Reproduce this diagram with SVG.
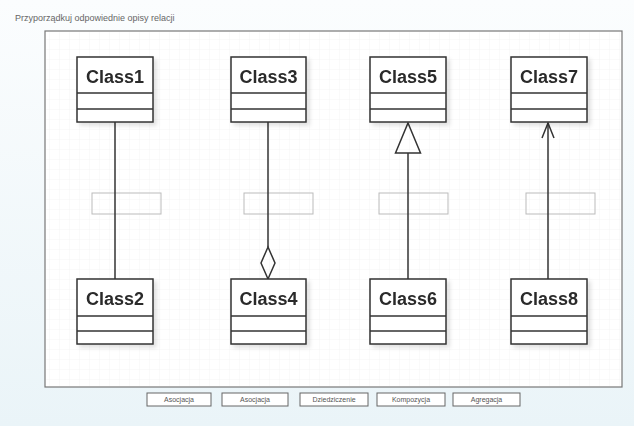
<svg xmlns="http://www.w3.org/2000/svg" width="634" height="426" viewBox="0 0 634 426">
<defs>
<linearGradient id="bg" x1="0" y1="0" x2="0" y2="1">
<stop offset="0" stop-color="#fbfdfe"/>
<stop offset="1" stop-color="#eaf4f8"/>
</linearGradient>
<pattern id="grid" width="10" height="10" patternUnits="userSpaceOnUse">
<path d="M10 0V10M0 10H10" fill="none" stroke="#f4f4f4" stroke-width="1"/>
</pattern>
<filter id="sh" x="-10%" y="-10%" width="130%" height="130%">
<feDropShadow dx="3" dy="3" stdDeviation="2" flood-color="#000" flood-opacity="0.12"/>
</filter>
</defs>
<style>
.cls rect{fill:#fff;stroke:#333;stroke-width:1.5}
.cls line{stroke:#333;stroke-width:1.5}
.cls text{font-family:"Liberation Sans",Arial,sans-serif;font-weight:bold;font-size:18px;fill:#2a2a2a;text-anchor:middle}
.edge{stroke:#333;stroke-width:1.5;fill:none}
.lbl{fill:none;stroke:#bbb;stroke-width:1}
.btn rect{fill:#fff;stroke:#666;stroke-width:1}
.btn text{font-family:"Liberation Sans",Arial,sans-serif;font-size:7px;fill:#555;text-anchor:middle}
</style>
<rect width="634" height="426" fill="url(#bg)"/>
<text x="15" y="21" font-family="Liberation Sans, Arial, sans-serif" font-size="9" fill="#666">Przyporządkuj odpowiednie opisy relacji</text>
<rect x="45" y="31" width="577" height="356" fill="#fff" stroke="#777" stroke-width="1.2"/>
<rect x="46" y="32" width="575" height="354" fill="url(#grid)"/>
<g id="labels">
<rect class="lbl" x="92" y="193" width="69" height="21"/>
<rect class="lbl" x="244" y="193" width="69" height="21"/>
<rect class="lbl" x="379" y="193" width="69" height="21"/>
<rect class="lbl" x="526" y="193" width="69" height="21"/>
</g>
<g id="connectors">
<line class="edge" x1="115" y1="122" x2="115" y2="279"/>
<line class="edge" x1="268" y1="122" x2="268" y2="247"/>
<polygon class="edge" points="268,247 275,263 268,279 261,263" fill="#fff"/>
<line class="edge" x1="408" y1="153" x2="408" y2="279"/>
<polygon class="edge" points="408,123 420.5,153 395.5,153" fill="#fff"/>
<line class="edge" x1="548" y1="123" x2="548" y2="279"/>
<polyline class="edge" points="542,138 548,123 554,138"/>
</g>
<g id="Class1" class="cls" filter="url(#sh)"><rect x="77" y="57" width="76" height="65"/><line x1="77" y1="93" x2="153" y2="93"/><line x1="77" y1="109" x2="153" y2="109"/><text x="115" y="82.5">Class1</text></g>
<g id="Class3" class="cls" filter="url(#sh)"><rect x="231" y="57" width="75" height="65"/><line x1="231" y1="93" x2="306" y2="93"/><line x1="231" y1="109" x2="306" y2="109"/><text x="268.5" y="82.5">Class3</text></g>
<g id="Class5" class="cls" filter="url(#sh)"><rect x="370" y="57" width="76" height="65"/><line x1="370" y1="93" x2="446" y2="93"/><line x1="370" y1="109" x2="446" y2="109"/><text x="408" y="82.5">Class5</text></g>
<g id="Class7" class="cls" filter="url(#sh)"><rect x="511" y="57" width="76" height="65"/><line x1="511" y1="93" x2="587" y2="93"/><line x1="511" y1="109" x2="587" y2="109"/><text x="549" y="82.5">Class7</text></g>
<g id="Class2" class="cls" filter="url(#sh)"><rect x="77" y="279" width="76" height="65"/><line x1="77" y1="316" x2="153" y2="316"/><line x1="77" y1="331" x2="153" y2="331"/><text x="115" y="304.5">Class2</text></g>
<g id="Class4" class="cls" filter="url(#sh)"><rect x="231" y="279" width="75" height="65"/><line x1="231" y1="316" x2="306" y2="316"/><line x1="231" y1="331" x2="306" y2="331"/><text x="268.5" y="304.5">Class4</text></g>
<g id="Class6" class="cls" filter="url(#sh)"><rect x="370" y="279" width="76" height="65"/><line x1="370" y1="316" x2="446" y2="316"/><line x1="370" y1="331" x2="446" y2="331"/><text x="408" y="304.5">Class6</text></g>
<g id="Class8" class="cls" filter="url(#sh)"><rect x="511" y="279" width="76" height="65"/><line x1="511" y1="316" x2="587" y2="316"/><line x1="511" y1="331" x2="587" y2="331"/><text x="549" y="304.5">Class8</text></g>
<g id="btn1" class="btn"><rect x="147" y="393" width="64" height="13"/><text x="179" y="402">Asocjacja</text></g>
<g id="btn2" class="btn"><rect x="222" y="393" width="66" height="13"/><text x="255" y="402">Asocjacja</text></g>
<g id="btn3" class="btn"><rect x="300" y="393" width="68" height="13"/><text x="334" y="402">Dziedziczenie</text></g>
<g id="btn4" class="btn"><rect x="377" y="393" width="68" height="13"/><text x="411" y="402">Kompozycja</text></g>
<g id="btn5" class="btn"><rect x="453" y="393" width="67" height="13"/><text x="486.5" y="402">Agregacja</text></g>
</svg>
